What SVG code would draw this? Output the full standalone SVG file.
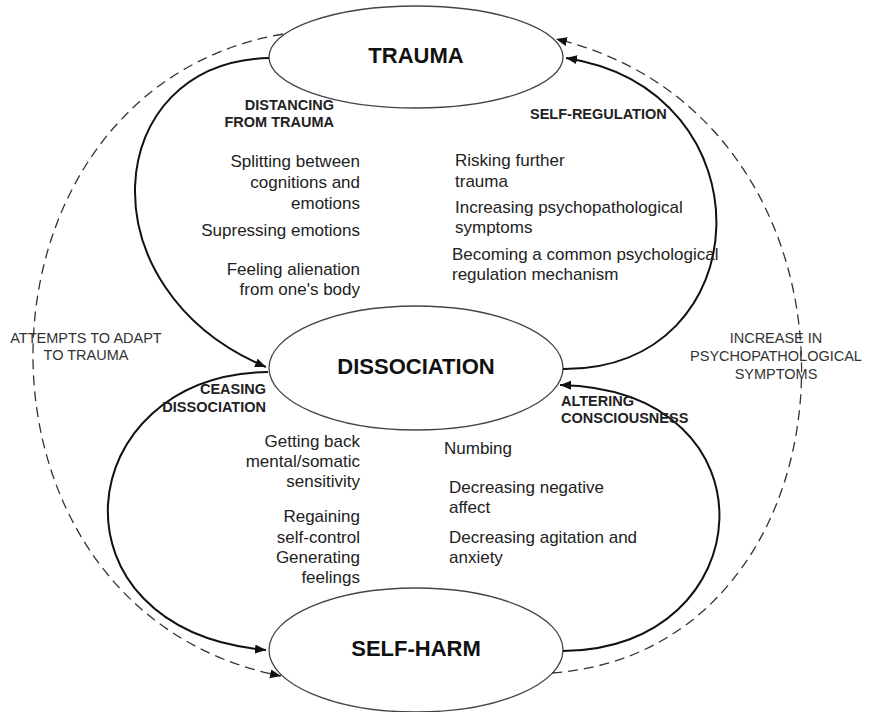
<svg xmlns="http://www.w3.org/2000/svg" width="871" height="712" viewBox="0 0 871 712">
<style>
.node{fill:#fff;stroke:#444;stroke-width:1.3}
.title{font-family:"Liberation Sans",Arial,sans-serif;font-weight:bold;font-size:22px;fill:#111;text-anchor:middle}
.lab{font-family:"Liberation Sans",Arial,sans-serif;font-weight:bold;font-size:14.5px;fill:#222}
.cap{font-family:"Liberation Sans",Arial,sans-serif;font-size:14.5px;fill:#333;text-anchor:middle}
.txt{font-family:"Liberation Sans",Arial,sans-serif;font-size:17px;fill:#222}
.r{text-anchor:end}
.solid{fill:none;stroke:#111;stroke-width:2}
.dash{fill:none;stroke:#333;stroke-width:1.3;stroke-dasharray:10 6}
</style>
<defs>
<marker id="ah" markerUnits="userSpaceOnUse" markerWidth="12" markerHeight="10" refX="11" refY="4.5" orient="auto">
<path d="M0,0 L11,4.5 L0,9 z" fill="#111"/>
</marker>
</defs>
<g id="trauma">
<ellipse class="node" cx="416" cy="57" rx="147" ry="51"/>
<text class="title" x="416" y="63">TRAUMA</text>
</g>
<g id="dissociation">
<ellipse class="node" cx="416" cy="368" rx="147" ry="62"/>
<text class="title" x="416" y="374">DISSOCIATION</text>
</g>
<g id="self-harm">
<ellipse class="node" cx="416" cy="650" rx="147" ry="62"/>
<text class="title" x="416" y="656">SELF-HARM</text>
</g>
<g id="connectors">
<path class="solid" d="M269,58 C100,62 82,290 266,367" marker-end="url(#ah)"/>
<path class="solid" d="M563,369 C762,370 772,90 566,58" marker-end="url(#ah)"/>
<path class="solid" d="M268,372 C68,375 42,630 266,650" marker-end="url(#ah)"/>
<path class="solid" d="M563,651 C762,650 782,390 560,385" marker-end="url(#ah)"/>
<path class="dash" d="M283,34 C-45,90 -55,610 281,676" marker-end="url(#ah)"/>
<path class="dash" d="M552,673 C874,650 894,120 556,39" marker-end="url(#ah)"/>
</g>
<g id="labels">
<text class="lab r" x="334" y="110">DISTANCING</text>
<text class="lab r" x="334" y="127">FROM TRAUMA</text>
<text class="lab" x="530" y="119">SELF-REGULATION</text>
<text class="lab r" x="266" y="394">CEASING</text>
<text class="lab r" x="266" y="412">DISSOCIATION</text>
<text class="lab" x="561" y="406">ALTERING</text>
<text class="lab" x="561" y="423">CONSCIOUSNESS</text>
<text class="cap" x="86" y="343">ATTEMPTS TO ADAPT</text>
<text class="cap" x="86" y="360">TO TRAUMA</text>
<text class="cap" x="776" y="343">INCREASE IN</text>
<text class="cap" x="776" y="361">PSYCHOPATHOLOGICAL</text>
<text class="cap" x="776" y="379">SYMPTOMS</text>
</g>
<g id="texts">
<text class="txt r" x="360" y="167">Splitting between</text>
<text class="txt r" x="360" y="188">cognitions and</text>
<text class="txt r" x="360" y="209">emotions</text>
<text class="txt r" x="360" y="236">Supressing emotions</text>
<text class="txt r" x="360" y="275">Feeling alienation</text>
<text class="txt r" x="360" y="295">from one's body</text>
<text class="txt" x="455" y="166">Risking further</text>
<text class="txt" x="455" y="187">trauma</text>
<text class="txt" x="455" y="213">Increasing psychopathological</text>
<text class="txt" x="455" y="233">symptoms</text>
<text class="txt" x="452" y="260">Becoming a common psychological</text>
<text class="txt" x="452" y="280">regulation mechanism</text>
<text class="txt r" x="360" y="447">Getting back</text>
<text class="txt r" x="360" y="467">mental/somatic</text>
<text class="txt r" x="360" y="487">sensitivity</text>
<text class="txt r" x="360" y="522">Regaining</text>
<text class="txt r" x="360" y="543">self-control</text>
<text class="txt r" x="360" y="563">Generating</text>
<text class="txt r" x="360" y="583">feelings</text>
<text class="txt" x="444" y="454">Numbing</text>
<text class="txt" x="449" y="493">Decreasing negative</text>
<text class="txt" x="449" y="513">affect</text>
<text class="txt" x="449" y="543">Decreasing agitation and</text>
<text class="txt" x="449" y="563">anxiety</text>
</g>
</svg>
